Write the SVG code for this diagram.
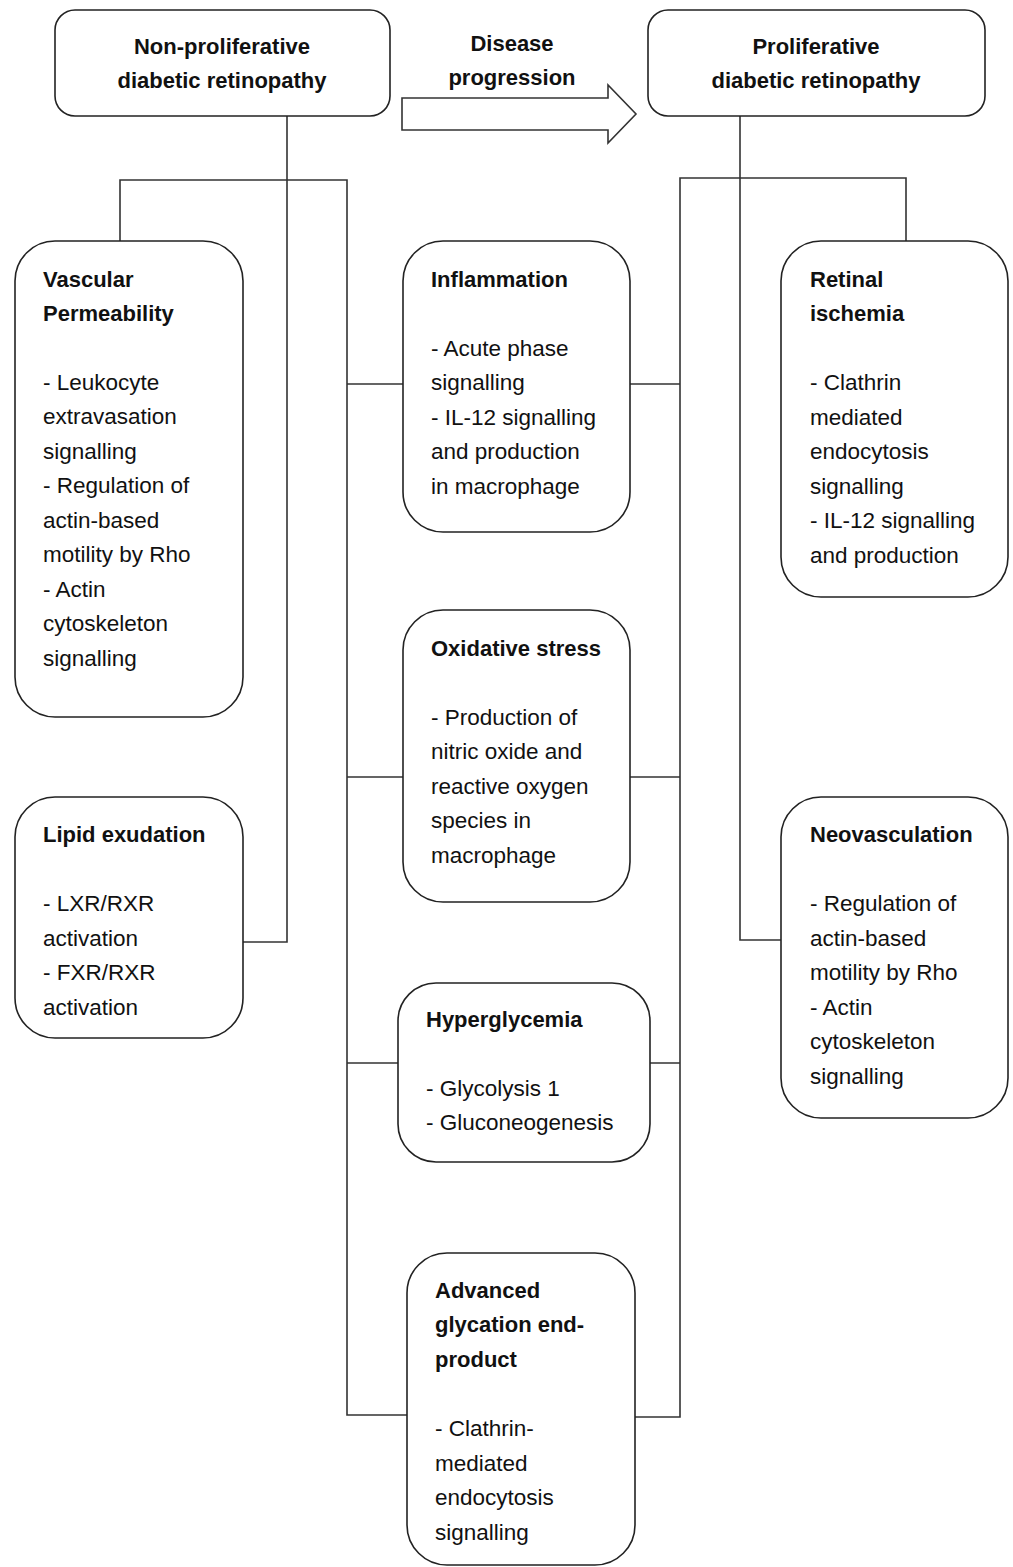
<svg xmlns="http://www.w3.org/2000/svg" width="1013" height="1567" viewBox="0 0 1013 1567">
<style>
.box{fill:#fff;stroke:#222;stroke-width:1.6}
.ln{fill:none;stroke:#333;stroke-width:1.6}
text{font-family:"Liberation Sans",Arial,sans-serif;fill:#111}
.h{font-weight:bold;font-size:22px}
.t{font-size:22.5px}
.c{text-anchor:middle}
</style>
<rect width="1013" height="1567" fill="#fff"/>
<g id="connectors">
<path class="ln" d="M287 116V942H243"/>
<path class="ln" d="M120 241V180H347V1415H407"/>
<path class="ln" d="M347 384H403M347 777H403M347 1063H398"/>
<path class="ln" d="M740 116V940H781"/>
<path class="ln" d="M906 241V178H680V1417H635"/>
<path class="ln" d="M630 384H680M630 777H680M650 1063H680"/>
</g>
<g id="progression">
<path d="M402 98H608V85L636 114L608 143V130H402Z" fill="#fff" stroke="#333" stroke-width="1.6"/>
<text class="h c" x="512" y="51">Disease</text>
<text class="h c" x="512" y="85">progression</text>
</g>
<g id="npdr">
<rect class="box" x="55" y="10" width="335" height="106" rx="20"/>
<text class="h c" x="222" y="54">Non-proliferative</text>
<text class="h c" x="222" y="88">diabetic retinopathy</text>
</g>
<g id="pdr">
<rect class="box" x="648" y="10" width="337" height="106" rx="20"/>
<text class="h c" x="816" y="54">Proliferative</text>
<text class="h c" x="816" y="88">diabetic retinopathy</text>
</g>
<g id="vascular">
<rect class="box" x="15" y="241" width="228" height="476" rx="40"/>
<text class="h" x="43" y="287">Vascular</text>
<text class="h" x="43" y="321">Permeability</text>
<text class="t" x="43" y="390">- Leukocyte</text>
<text class="t" x="43" y="424">extravasation</text>
<text class="t" x="43" y="459">signalling</text>
<text class="t" x="43" y="493">- Regulation of</text>
<text class="t" x="43" y="528">actin-based</text>
<text class="t" x="43" y="562">motility by Rho</text>
<text class="t" x="43" y="597">- Actin</text>
<text class="t" x="43" y="631">cytoskeleton</text>
<text class="t" x="43" y="666">signalling</text>
</g>
<g id="lipid">
<rect class="box" x="15" y="797" width="228" height="241" rx="40"/>
<text class="h" x="43" y="842">Lipid exudation</text>
<text class="t" x="43" y="911">- LXR/RXR</text>
<text class="t" x="43" y="946">activation</text>
<text class="t" x="43" y="980">- FXR/RXR</text>
<text class="t" x="43" y="1015">activation</text>
</g>
<g id="inflammation">
<rect class="box" x="403" y="241" width="227" height="291" rx="40"/>
<text class="h" x="431" y="287">Inflammation</text>
<text class="t" x="431" y="356">- Acute phase</text>
<text class="t" x="431" y="390">signalling</text>
<text class="t" x="431" y="425">- IL-12 signalling</text>
<text class="t" x="431" y="459">and production</text>
<text class="t" x="431" y="494">in macrophage</text>
</g>
<g id="oxidative">
<rect class="box" x="403" y="610" width="227" height="292" rx="40"/>
<text class="h" x="431" y="656">Oxidative stress</text>
<text class="t" x="431" y="725">- Production of</text>
<text class="t" x="431" y="759">nitric oxide and</text>
<text class="t" x="431" y="794">reactive oxygen</text>
<text class="t" x="431" y="828">species in</text>
<text class="t" x="431" y="863">macrophage</text>
</g>
<g id="hyperglycemia">
<rect class="box" x="398" y="983" width="252" height="179" rx="38"/>
<text class="h" x="426" y="1027">Hyperglycemia</text>
<text class="t" x="426" y="1096">- Glycolysis 1</text>
<text class="t" x="426" y="1130">- Gluconeogenesis</text>
</g>
<g id="age">
<rect class="box" x="407" y="1253" width="228" height="312" rx="40"/>
<text class="h" x="435" y="1298">Advanced</text>
<text class="h" x="435" y="1332">glycation end-</text>
<text class="h" x="435" y="1367">product</text>
<text class="t" x="435" y="1436">- Clathrin-</text>
<text class="t" x="435" y="1471">mediated</text>
<text class="t" x="435" y="1505">endocytosis</text>
<text class="t" x="435" y="1540">signalling</text>
</g>
<g id="ischemia">
<rect class="box" x="781" y="241" width="227" height="356" rx="40"/>
<text class="h" x="810" y="287">Retinal</text>
<text class="h" x="810" y="321">ischemia</text>
<text class="t" x="810" y="390">- Clathrin</text>
<text class="t" x="810" y="425">mediated</text>
<text class="t" x="810" y="459">endocytosis</text>
<text class="t" x="810" y="494">signalling</text>
<text class="t" x="810" y="528">- IL-12 signalling</text>
<text class="t" x="810" y="563">and production</text>
</g>
<g id="neovasculation">
<rect class="box" x="781" y="797" width="227" height="321" rx="40"/>
<text class="h" x="810" y="842">Neovasculation</text>
<text class="t" x="810" y="911">- Regulation of</text>
<text class="t" x="810" y="946">actin-based</text>
<text class="t" x="810" y="980">motility by Rho</text>
<text class="t" x="810" y="1015">- Actin</text>
<text class="t" x="810" y="1049">cytoskeleton</text>
<text class="t" x="810" y="1084">signalling</text>
</g>
</svg>
